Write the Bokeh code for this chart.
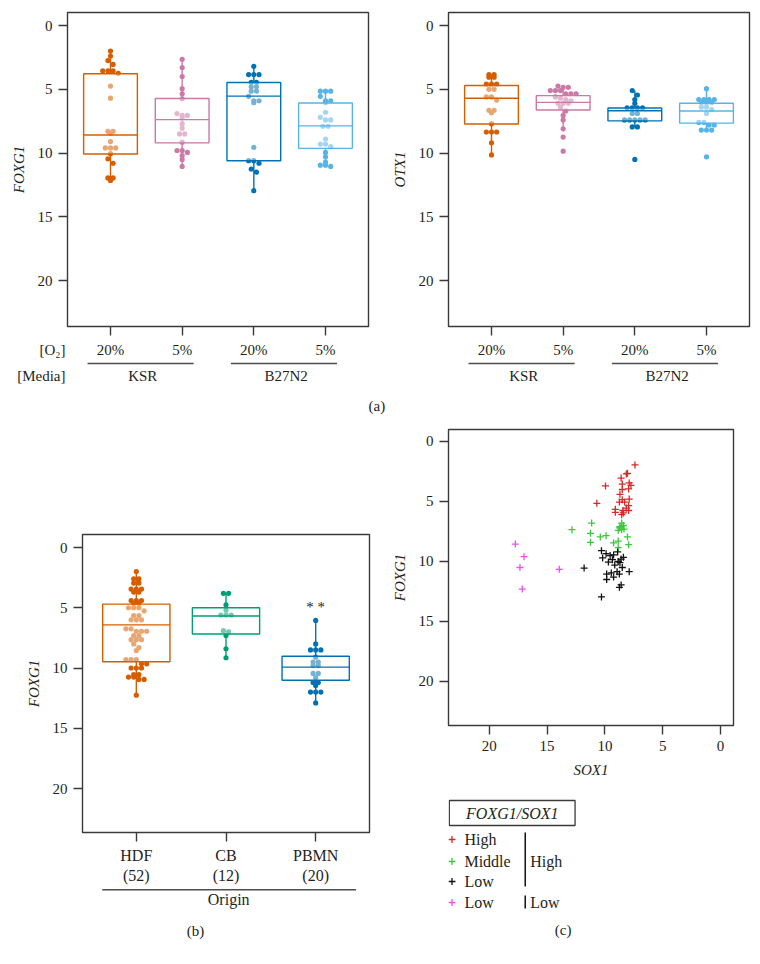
import numpy as np
from bokeh.plotting import figure
from bokeh.models import Range1d, FixedTicker, ColumnDataSource, LinearAxis
from bokeh.layouts import column, row
from bokeh.embed import file_html
from bokeh.resources import INLINE
from bokeh.core.properties import value

SERIF = "Liberation Serif"
INK = "#231f20"
AXC = "#3a3a3a"

# ---------------- data ----------------
# Panel (a)
o2_levels = ["20%", "5%", "20%", "5%"]
media_levels = ["KSR", "B27N2"]
media_start = [0, 2]
row_labels = ["[O\u2082]", "[Media]"]
colors_a = ["#D55E00", "#CC79A7", "#0072B2", "#56B4E9"]

foxg1_ksr20 = [2.0, 2.4, 2.75, 3.05, 3.55, 3.55, 3.55, 3.75, 4.75, 5.7, 8.3, 8.3, 8.45,
               9.1, 9.6, 9.6, 9.6, 10.05, 10.45, 10.8, 11.95, 11.95, 12.15]
foxg1_ksr5 = [2.65, 3.3, 4.0, 4.95, 5.35, 5.75, 6.9, 7.05, 7.05, 7.25, 7.7, 8.05, 8.5, 8.5,
              9.15, 9.8, 9.8, 9.95, 10.2, 10.5, 11.05]
foxg1_b20 = [3.2, 3.85, 3.85, 3.85, 4.45, 4.45, 4.8, 4.8, 5.15, 5.15, 5.55, 5.9, 5.9, 6.05,
             9.55, 10.6, 10.6, 10.8, 11.25, 11.5, 12.95]
foxg1_b5 = [5.15, 5.15, 5.15, 5.55, 5.9, 5.9, 6.05, 6.8, 7.2, 7.4, 7.4, 7.9, 7.9, 8.9, 9.3,
            9.3, 9.5, 9.95, 10.3, 10.7, 10.95, 10.95, 11.05]
foxg1_q1 = [3.78, 5.72, 4.47, 6.08]
foxg1_med = [8.58, 7.38, 5.54, 7.87]
foxg1_q3 = [10.08, 9.2, 10.6, 9.63]
foxg1_lo = [2.0, 2.65, 3.2, 5.15]
foxg1_hi = [12.15, 11.05, 12.95, 11.05]

otx1_ksr20 = [3.85, 3.85, 4.05, 4.05, 4.6, 4.6, 4.6, 5.0, 5.0, 5.6, 5.6, 5.85, 6.65, 6.65,
              6.85, 7.7, 8.35, 8.35, 8.35, 9.2, 10.15]
otx1_ksr5 = [4.75, 4.85, 4.85, 5.1, 5.1, 5.1, 5.35, 5.35, 5.35, 5.6, 5.7, 5.8, 5.9, 6.1, 6.1,
             6.1, 6.4, 6.7, 7.05, 7.4, 8.1, 8.75, 9.85]
otx1_b20 = [5.1, 5.45, 5.8, 6.1, 6.45, 6.45, 6.45, 6.45, 6.9, 6.9, 7.4, 7.4, 7.4, 7.4, 7.4,
            7.95, 7.95, 10.5]
otx1_b5 = [4.95, 5.8, 5.8, 5.8, 5.8, 6.05, 6.05, 6.05, 6.4, 6.4, 6.6, 6.9, 7.6, 7.6, 7.8,
           7.8, 8.2, 8.2, 8.2, 10.3]
otx1_q1 = [4.7, 5.5, 6.47, 6.1]
otx1_med = [5.7, 6.03, 6.68, 6.7]
otx1_q3 = [7.72, 6.63, 7.48, 7.65]
otx1_lo = [3.85, 4.75, 5.1, 4.95]
otx1_hi = [10.15, 8.1, 7.95, 8.2]

# Panel (b)
origin_labels = ["HDF\n(52)", "CB\n(12)", "PBMN\n(20)"]
colors_b = ["#D55E00", "#009E73", "#0072B2"]
foxg1_hdf = [2.0, 2.6, 2.6, 2.95, 2.95, 3.45, 3.45, 3.45, 3.7, 3.7, 4.4, 4.4, 4.4, 4.65,
             4.65, 5.0, 5.0, 5.0, 5.25, 5.65, 5.65, 6.0, 6.0, 6.0, 6.75, 6.75, 6.95, 6.95,
             6.95, 7.3, 7.3, 7.65, 7.65, 7.65, 8.0, 8.3, 8.55, 9.3, 9.3, 9.3, 9.65, 9.65,
             10.0, 10.0, 10.0, 10.55, 10.55, 10.75, 10.75, 10.95, 10.95, 12.25]
foxg1_cb = [3.8, 3.8, 4.75, 5.2, 5.6, 5.6, 5.6, 6.9, 7.0, 7.3, 8.4, 9.15]
foxg1_pbmn = [6.05, 8.0, 8.5, 8.5, 8.5, 9.1, 9.5, 9.5, 9.8, 9.8, 10.45, 10.45, 10.8, 11.2,
              11.2, 11.45, 12.0, 12.0, 12.0, 12.9]
origin_q1 = [4.7, 5.0, 9.02]
origin_med = [6.42, 5.68, 9.93]
origin_q3 = [9.48, 7.18, 11.02]
origin_lo = [2.0, 3.8, 6.05]
origin_hi = [12.25, 9.15, 12.9]
signif_label = "* *"

# Panel (c)
hh_sox1 = [7.4, 8.05, 8.15, 8.6, 8.5, 7.9, 7.75, 7.95, 9.95, 8.5, 8.7, 8.5, 7.9, 8.75, 8.3,
           10.7, 7.95, 9.1, 9.1, 8.45, 7.95, 8.4, 8.55, 8.15]
hh_foxg1 = [1.95, 2.65, 2.7, 3.05, 3.55, 3.45, 3.65, 3.95, 3.7, 4.0, 4.4, 4.85, 4.8, 5.05,
            5.05, 5.15, 5.35, 5.65, 5.9, 5.75, 5.75, 5.95, 6.1, 5.55]
mh_sox1 = [11.15, 12.85, 11.25, 11.25, 10.4, 9.9, 9.25, 8.85, 8.85, 8.05, 7.95, 8.55, 8.7,
           8.4, 8.75, 8.35, 8.55, 8.85]
mh_foxg1 = [6.8, 7.35, 7.65, 8.4, 7.95, 7.85, 8.45, 8.3, 8.85, 7.95, 8.6, 6.8, 7.1, 7.0, 7.2,
            7.3, 7.35, 7.4]
lh_sox1 = [10.3, 9.9, 10.2, 9.55, 9.25, 9.7, 9.35, 8.9, 8.85, 8.6, 8.4, 9.15, 8.7, 8.5, 11.8,
           9.85, 9.45, 8.95, 8.75, 9.85, 9.25, 7.9, 8.6, 8.75, 10.3]
lh_foxg1 = [9.1, 9.35, 9.7, 9.5, 9.45, 10.05, 9.85, 9.2, 10.0, 9.8, 9.65, 10.3, 10.1, 10.5,
            10.55, 11.05, 10.95, 10.85, 11.05, 11.5, 11.3, 10.85, 11.95, 12.15, 12.95]
ll_sox1 = [17.75, 17.0, 17.35, 13.95, 17.15]
ll_foxg1 = [8.55, 9.6, 10.5, 10.65, 12.3]
class_labels = ["High", "Middle", "Low", "Low"]
class_colors = ["#D42A2A", "#3CC83C", "#111111", "#EE50EE"]
ratio_groups = ["High", "Low"]

# ---------------- helpers ----------------

def swarm(vals, center, x_ppu, y_ppu, dot):
    rows = {}
    for i, v in enumerate(vals):
        rows.setdefault(int(round(v * y_ppu / dot)), []).append(i)
    xs = [0.0] * len(vals)
    for idx in rows.values():
        n = len(idx)
        for k, i in enumerate(idx):
            xs[i] = center + (k - (n - 1) / 2) * dot / x_ppu
    return xs


def main_fig(width, height, left, right, top, bottom, xr, yr):
    p = figure(width=width, height=height, x_range=xr, y_range=yr,
               toolbar_location=None, output_backend="svg",
               min_border_left=left, min_border_right=right,
               min_border_top=top, min_border_bottom=bottom)
    p.xgrid.visible = False
    p.ygrid.visible = False
    p.background_fill_color = "white"
    p.border_fill_color = "white"
    p.outline_line_color = AXC
    p.outline_line_width = 1.4
    p.outline_line_alpha = 1.0
    p.axis.axis_line_color = None
    p.axis.major_tick_line_color = AXC
    p.axis.major_tick_line_width = 1.4
    p.axis.major_tick_out = 9
    p.axis.major_tick_in = 0
    p.axis.minor_tick_line_color = None
    p.axis.major_label_text_font = SERIF
    p.axis.major_label_text_font_size = "15px"
    p.axis.major_label_text_color = INK
    p.axis.major_label_standoff = 6
    p.axis.axis_label_text_font = SERIF
    p.axis.axis_label_text_font_style = "italic"
    p.axis.axis_label_text_font_size = "15px"
    p.axis.axis_label_text_color = INK
    p.axis.axis_label_standoff = 8
    p.yaxis.ticker = FixedTicker(ticks=[0, 5, 10, 15, 20])
    return p


def sub_fig(width, height, left, right, xr, yr):
    f = figure(width=width, height=height, x_range=xr, y_range=yr,
               toolbar_location=None, output_backend="svg",
               x_axis_location=None, y_axis_location=None,
               min_border_left=left, min_border_right=right,
               min_border_top=0, min_border_bottom=0)
    f.outline_line_color = None
    f.grid.visible = False
    f.background_fill_color = "white"
    f.border_fill_color = "white"
    return f


def label_axis(ticks, labels, standoff):
    ax = LinearAxis(ticker=FixedTicker(ticks=ticks),
                    major_label_overrides={t: s for t, s in zip(ticks, labels)})
    ax.axis_line_color = None
    ax.major_tick_line_color = None
    ax.minor_tick_line_color = None
    ax.major_tick_out = 0
    ax.major_tick_in = 0
    ax.major_label_standoff = standoff
    ax.major_label_text_font = SERIF
    ax.major_label_text_font_size = "15px"
    ax.major_label_text_color = INK
    return ax


def draw_boxes(p, groups, q1, med, q3, lo, hi, colors, x_ppu, y_ppu, half=0.375, dot=5.2):
    idx = list(range(len(groups)))
    src = ColumnDataSource(dict(x=idx, left=[i - half for i in idx], right=[i + half for i in idx],
                                q1=q1, med=med, q3=q3, lo=lo, hi=hi, c=colors))
    p.segment(x0="x", y0="lo", x1="x", y1="q1", line_color="c", line_width=1.4, source=src)
    p.segment(x0="x", y0="q3", x1="x", y1="hi", line_color="c", line_width=1.4, source=src)
    for i, vals in enumerate(groups):
        xs = swarm(vals, i, x_ppu, y_ppu, dot)
        p.scatter(x=xs, y=vals, size=dot, fill_color=colors[i], line_color=None)
    p.quad(left="left", right="right", top="q1", bottom="q3", fill_color="white",
           fill_alpha=0.45, line_color="c", line_width=1.4, source=src)
    p.segment(x0="left", y0="med", x1="right", y1="med", line_color="c", line_width=1.4,
              source=src)


def txt(f, x, y, t, size="15px", align="center", style="normal"):
    f.text(x=x, y=y, text=t, text_font=value(SERIF), text_font_size=size,
           text_align=align, text_baseline="middle", text_color=INK, text_font_style=style)

# ---------------- panel (a) ----------------
XA = (-0.6, 3.6)
YA = (23.6, -1.02)
A_T, A_FH, A_B, A_SUB = 12, 314, 12, 80


def panel_a(width, left, right, ylabel, groups, q1, med, q3, lo, hi, first):
    fw = width - left - right
    p = main_fig(width, A_T + A_FH + A_B, left, right, A_T, A_B, Range1d(*XA), Range1d(*YA))
    p.xaxis.ticker = FixedTicker(ticks=list(range(len(o2_levels))))
    p.xaxis.major_label_overrides = {i: "" for i in range(len(o2_levels))}
    p.xaxis.major_label_text_font_size = "1px"
    p.xaxis.major_label_standoff = 0
    p.yaxis.axis_label = ylabel
    x_ppu = fw / (XA[1] - XA[0])
    y_ppu = A_FH / (YA[0] - YA[1])
    draw_boxes(p, groups, q1, med, q3, lo, hi, colors_a, x_ppu, y_ppu)

    sub = sub_fig(width, A_SUB, left, right, p.x_range, Range1d(A_SUB, 0))
    txt(sub, list(range(len(o2_levels))), [11] * 4, o2_levels)
    sub.segment(x0=[g - 0.32 for g in media_start], x1=[g + 1.16 for g in media_start],
                y0=[25, 25], y1=[25, 25], line_color="#4d4d4d", line_width=1.6)
    txt(sub, [g + 0.45 for g in media_start], [37, 37], media_levels)
    if first:
        sub.add_layout(label_axis([11, 37], row_labels, 2), "left")
        sub.add_layout(label_axis([67], ["(a)"], 0), "right")
    return column(p, sub)

col1 = panel_a(388, 67, 19, "FOXG1",
               [foxg1_ksr20, foxg1_ksr5, foxg1_b20, foxg1_b5],
               foxg1_q1, foxg1_med, foxg1_q3, foxg1_lo, foxg1_hi, True)
col2 = panel_a(364, 58, 3, "OTX1",
               [otx1_ksr20, otx1_ksr5, otx1_b20, otx1_b5],
               otx1_q1, otx1_med, otx1_q3, otx1_lo, otx1_hi, False)

# ---------------- panel (b) ----------------
XB = (-0.6, 2.6)
YB = (23.65, -1.08)
B_W, B_L, B_R, B_T, B_FH, B_B, B_SUB = 388, 82, 19, 116, 298, 56, 60
p3 = main_fig(B_W, B_T + B_FH + B_B, B_L, B_R, B_T, B_B, Range1d(*XB), Range1d(*YB))
p3.xaxis.ticker = FixedTicker(ticks=list(range(len(origin_labels))))
p3.xaxis.major_label_overrides = {i: s for i, s in enumerate(origin_labels)}
p3.xaxis.major_label_text_font_size = "16px"
p3.xaxis.major_label_standoff = 5
p3.yaxis.axis_label = "FOXG1"
bx_ppu = (B_W - B_L - B_R) / (XB[1] - XB[0])
by_ppu = B_FH / (YB[0] - YB[1])
draw_boxes(p3, [foxg1_hdf, foxg1_cb, foxg1_pbmn], origin_q1, origin_med, origin_q3,
           origin_lo, origin_hi, colors_b, bx_ppu, by_ppu)
txt(p3, [2], [origin_lo[2] - 1.15], [signif_label], size="15px")

p3b = sub_fig(B_W, B_SUB, B_L, B_R, p3.x_range, Range1d(B_SUB, 0))
p3b.segment(x0=[-0.38], x1=[2.45], y0=[1.2], y1=[1.2], line_color="#4d4d4d", line_width=1.6)
txt(p3b, [1.03], [11], ["Origin"], size="16px")
txt(p3b, [0.66], [42], ["(b)"])

# ---------------- panel (c) ----------------
XC = (23.53, -1.12)
YC = (23.67, -1.0)
C_W, C_L, C_R, C_T, C_FH, C_B = 364, 59, 19, 11, 296, 60
p4 = main_fig(C_W, C_T + C_FH + C_B, C_L, C_R, C_T, C_B, Range1d(*XC), Range1d(*YC))
p4.xaxis.ticker = FixedTicker(ticks=[0, 5, 10, 15, 20])
p4.xaxis.axis_label = "SOX1"
p4.yaxis.axis_label = "FOXG1"
for xs, ys, c in zip([hh_sox1, mh_sox1, lh_sox1, ll_sox1],
                     [hh_foxg1, mh_foxg1, lh_foxg1, ll_foxg1], class_colors):
    p4.scatter(x=xs, y=ys, marker="cross", size=7, line_color=c, line_width=1.3)

# legend area, in page pixel coordinates over the same frame columns
C_SUB = 948 - (418 + C_T + C_FH + C_B)
p4b = sub_fig(C_W, C_SUB, C_L, C_R, Range1d(447, 733), Range1d(948, 948 - C_SUB))
p4b.quad(left=[447.8], right=[574], top=[800], bottom=[825], fill_color=None,
         line_color=AXC, line_width=1.3)
txt(p4b, [511], [812.5], ["FOXG1/SOX1"], size="16px", style="italic")
leg_y = [839, 861, 881, 902]
p4b.scatter(x=[450.5] * 4, y=leg_y, marker="cross", size=7, line_color=class_colors,
            line_width=1.3)
txt(p4b, [463] * 4, leg_y, class_labels, size="16px", align="left")
p4b.segment(x0=[524, 524], x1=[524, 524], y0=[832, 895], y1=[886, 908],
            line_color="#111111", line_width=1.5)
txt(p4b, [529, 529], [861, 902], ratio_groups, size="16px", align="left")
txt(p4b, [562], [929], ["(c)"])

layout = column(row(col1, col2), row(column(p3, p3b), column(p4, p4b)))

open("out.html", "w").write(file_html(layout, INLINE))
